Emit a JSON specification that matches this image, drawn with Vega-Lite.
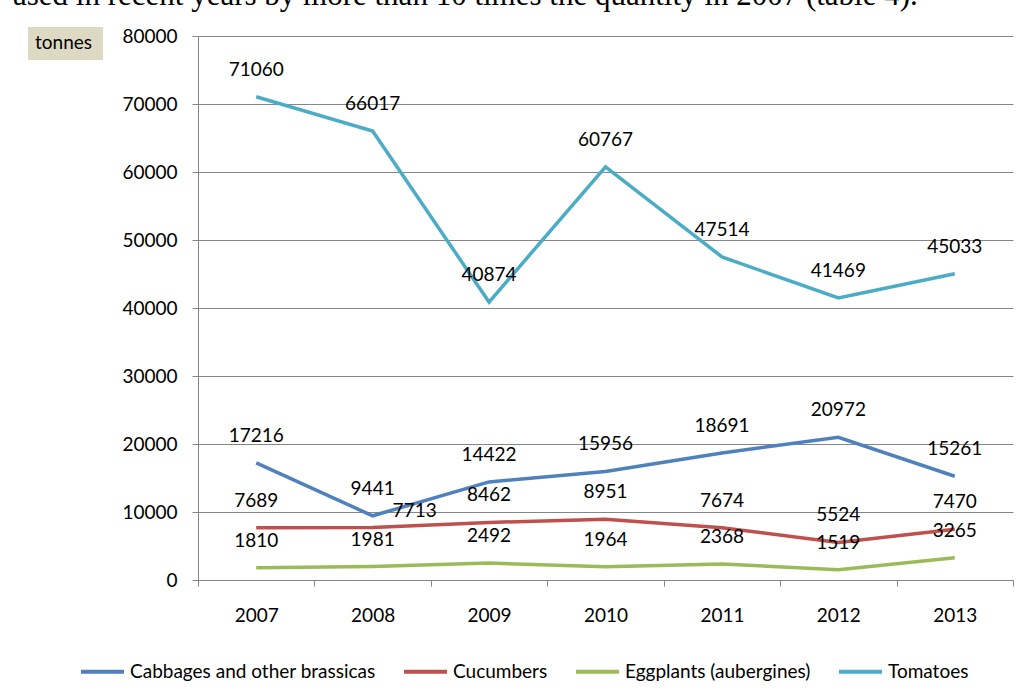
{
  "$schema": "https://vega.github.io/schema/vega-lite/v6.json",
  "width": 815,
  "height": 544,
  "autosize": "none",
  "padding": {"left": 198, "top": 36, "right": 8, "bottom": 116},
  "background": "white",
  "title": {
    "text": "ased in recent years by more than 10 times the quantity in 2007 (table 4).",
    "anchor": "start",
    "frame": "group",
    "font": "Liberation Serif",
    "fontSize": 31,
    "fontWeight": "normal",
    "color": "black",
    "baseline": "alphabetic",
    "offset": 0,
    "dx": -185,
    "dy": 9
  },
  "data": {
    "values": [
      {"year": "2007", "series": "Cabbages and other brassicas", "value": 17216},
      {"year": "2008", "series": "Cabbages and other brassicas", "value": 9441},
      {"year": "2009", "series": "Cabbages and other brassicas", "value": 14422},
      {"year": "2010", "series": "Cabbages and other brassicas", "value": 15956},
      {"year": "2011", "series": "Cabbages and other brassicas", "value": 18691},
      {"year": "2012", "series": "Cabbages and other brassicas", "value": 20972},
      {"year": "2013", "series": "Cabbages and other brassicas", "value": 15261},
      {"year": "2007", "series": "Cucumbers", "value": 7689},
      {"year": "2008", "series": "Cucumbers", "value": 7713},
      {"year": "2009", "series": "Cucumbers", "value": 8462},
      {"year": "2010", "series": "Cucumbers", "value": 8951},
      {"year": "2011", "series": "Cucumbers", "value": 7674},
      {"year": "2012", "series": "Cucumbers", "value": 5524},
      {"year": "2013", "series": "Cucumbers", "value": 7470},
      {"year": "2007", "series": "Eggplants (aubergines)", "value": 1810},
      {"year": "2008", "series": "Eggplants (aubergines)", "value": 1981},
      {"year": "2009", "series": "Eggplants (aubergines)", "value": 2492},
      {"year": "2010", "series": "Eggplants (aubergines)", "value": 1964},
      {"year": "2011", "series": "Eggplants (aubergines)", "value": 2368},
      {"year": "2012", "series": "Eggplants (aubergines)", "value": 1519},
      {"year": "2013", "series": "Eggplants (aubergines)", "value": 3265},
      {"year": "2007", "series": "Tomatoes", "value": 71060},
      {"year": "2008", "series": "Tomatoes", "value": 66017},
      {"year": "2009", "series": "Tomatoes", "value": 40874},
      {"year": "2010", "series": "Tomatoes", "value": 60767},
      {"year": "2011", "series": "Tomatoes", "value": 47514},
      {"year": "2012", "series": "Tomatoes", "value": 41469},
      {"year": "2013", "series": "Tomatoes", "value": 45033}
    ]
  },
  "encoding": {
    "x": {
      "field": "year",
      "type": "ordinal",
      "scale": {"type": "band", "paddingInner": 0, "paddingOuter": 0},
      "axis": {
        "title": null,
        "labelAngle": 0,
        "tickBand": "extent",
        "tickSize": 6,
        "labelPadding": 20,
        "grid": false
      }
    },
    "y": {
      "field": "value",
      "type": "quantitative",
      "scale": {"domain": [0, 80000], "nice": false},
      "axis": {
        "title": null,
        "values": [0, 10000, 20000, 30000, 40000, 50000, 60000, 70000, 80000],
        "format": "d",
        "tickSize": 6,
        "labelPadding": 15,
        "grid": true
      }
    }
  },
  "layer": [
    {
      "mark": {"type": "line", "strokeWidth": 3.5},
      "encoding": {
        "color": {
          "field": "series",
          "type": "nominal",
          "scale": {
            "domain": ["Cabbages and other brassicas", "Cucumbers", "Eggplants (aubergines)", "Tomatoes"],
            "range": ["#4F81BD", "#C0504D", "#9BBB59", "#4BACC6"]
          },
          "legend": {
            "title": null,
            "orient": "none",
            "legendX": -119,
            "legendY": 612,
            "direction": "horizontal",
            "columns": 4,
            "columnPadding": 20,
            "symbolType": "stroke",
            "symbolSize": 1849,
            "symbolStrokeWidth": 4,
            "labelOffset": 4,
            "labelFont": "Lato",
            "labelFontSize": 19,
            "labelColor": "black",
            "labelLimit": 400
          }
        }
      }
    },
    {
      "transform": [{"filter": "!(datum.series == 'Cucumbers' && datum.year == '2008')"}],
      "mark": {"type": "text", "dy": -27, "font": "Lato", "fontSize": 19, "color": "black", "baseline": "middle"},
      "encoding": {"text": {"field": "value", "type": "quantitative", "format": "d"}}
    },
    {
      "transform": [{"filter": "datum.series == 'Cucumbers' && datum.year == '2008'"}],
      "mark": {"type": "text", "dx": 42, "dy": -17, "font": "Lato", "fontSize": 19, "color": "black", "baseline": "middle"},
      "encoding": {"text": {"field": "value", "type": "quantitative", "format": "d"}}
    },
    {
      "mark": {"type": "point", "opacity": 0},
      "encoding": {
        "shape": {
          "datum": "tonnes",
          "legend": {
            "title": "tonnes",
            "orient": "none",
            "legendX": -170,
            "legendY": -9,
            "fillColor": "#DDD9C3",
            "padding": 7,
            "titleOrient": "left",
            "titlePadding": 2,
            "titleFont": "Lato",
            "titleFontSize": 19,
            "titleFontWeight": "normal",
            "titleColor": "black",
            "titleBaseline": "top",
            "labelExpr": "''",
            "labelFontSize": 1,
            "labelOffset": 0,
            "symbolSize": 0,
            "symbolOpacity": 0,
            "symbolStrokeWidth": 0
          }
        }
      }
    }
  ],
  "config": {
    "view": {"stroke": null},
    "axis": {
      "labelFont": "Lato",
      "labelFontSize": 19,
      "labelColor": "black",
      "domainColor": "#868686",
      "tickColor": "#868686",
      "gridColor": "#868686",
      "domainWidth": 1,
      "gridWidth": 1
    }
  }
}
